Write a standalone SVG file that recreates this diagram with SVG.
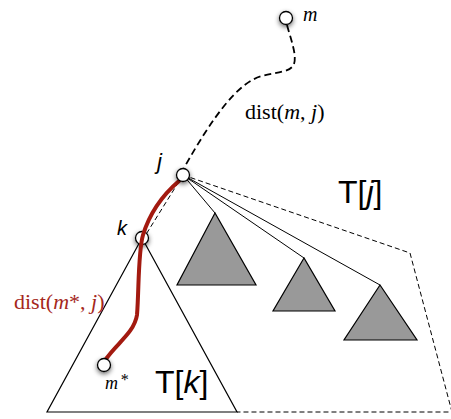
<svg xmlns="http://www.w3.org/2000/svg" width="451" height="419" viewBox="0 0 451 419">
<style>
.edge{fill:none;stroke:#000;stroke-width:1}
.dash{fill:none;stroke:#000;stroke-width:1;stroke-dasharray:5 3}
.sub{fill:#999;stroke:#000;stroke-width:1.2}
.node{fill:#fff;stroke:#000;stroke-width:1.3;filter:url(#sh)}
.serif{font-family:"Liberation Serif","Times New Roman",serif}
.sans{font-family:"Liberation Sans",Arial,sans-serif}
</style>
<defs>
<filter id="sh" x="-100%" y="-100%" width="300%" height="300%">
<feGaussianBlur in="SourceAlpha" stdDeviation="2.5"/>
<feOffset dx="0" dy="2" result="b"/>
<feComponentTransfer><feFuncA type="linear" slope="0.6"/></feComponentTransfer>
<feMerge><feMergeNode/><feMergeNode in="SourceGraphic"/></feMerge>
</filter>
</defs>
<rect width="451" height="419" fill="#fff"/>
<g id="Tj-region">
<polyline class="dash" points="183,175 410,253 452,412 237,412"/>
</g>
<g id="Tk">
<polygon points="142,238 47,412 237,412" fill="#fff" stroke="#000" stroke-width="1.2"/>
</g>
<g id="connectors">
<path d="M287,25 C291,40 297,55 294,64 C291,72 278,72 262,76 C238,82 212,118 184,168" fill="none" stroke="#000" stroke-width="1.8" stroke-dasharray="7 4"/>
<line class="dash" x1="183" y1="175" x2="145" y2="236"/>
<line class="edge" x1="183" y1="175" x2="215" y2="213"/>
<line class="edge" x1="183" y1="175" x2="304" y2="258"/>
<line class="edge" x1="183" y1="175" x2="380" y2="285"/>
</g>
<g id="sub1"><polygon class="sub" points="215,213 177,285 256,285"/></g>
<g id="sub2"><polygon class="sub" points="304,258 273,311 335,311"/></g>
<g id="sub3"><polygon class="sub" points="380,285 344,340 417,340"/></g>
<g id="k">
<circle class="node" cx="142" cy="238" r="6.5"/>
<text class="sans" x="117" y="235" font-size="20" font-style="italic">k</text>
</g>
<g id="path-red">
<path d="M179,181 C165,193 150,212 143,235 C138,252 139,290 137,315 C134,333 117,343 106,359" fill="none" stroke="#a31a10" stroke-width="4" stroke-linecap="round"/>
</g>
<g id="m">
<circle class="node" cx="286" cy="18" r="6.5"/>
<text class="serif" x="303" y="21" font-size="20" font-style="italic">m</text>
</g>
<g id="j">
<circle class="node" cx="183" cy="175" r="6.5"/>
<text class="sans" x="157" y="169" font-size="22" font-style="italic">j</text>
</g>
<g id="mstar">
<circle class="node" cx="104" cy="365" r="6.5"/>
<text class="serif" x="105" y="389" font-size="18" font-style="italic">m<tspan dx="2" dy="-4" font-size="16">*</tspan></text>
</g>
<g id="labels">
<text class="serif" x="245" y="119" font-size="22">dist(<tspan font-style="italic">m</tspan>, <tspan font-style="italic">j</tspan>)</text>
<text class="serif" x="14" y="309" font-size="22" fill="#a5281c">dist(<tspan font-style="italic">m</tspan>*, <tspan font-style="italic">j</tspan>)</text>
<text class="sans" x="155" y="393" font-size="32">T[<tspan font-style="italic">k</tspan>]</text>
<text class="sans" x="338" y="203" font-size="32">T[<tspan font-style="italic">j</tspan>]</text>
</g>
</svg>
